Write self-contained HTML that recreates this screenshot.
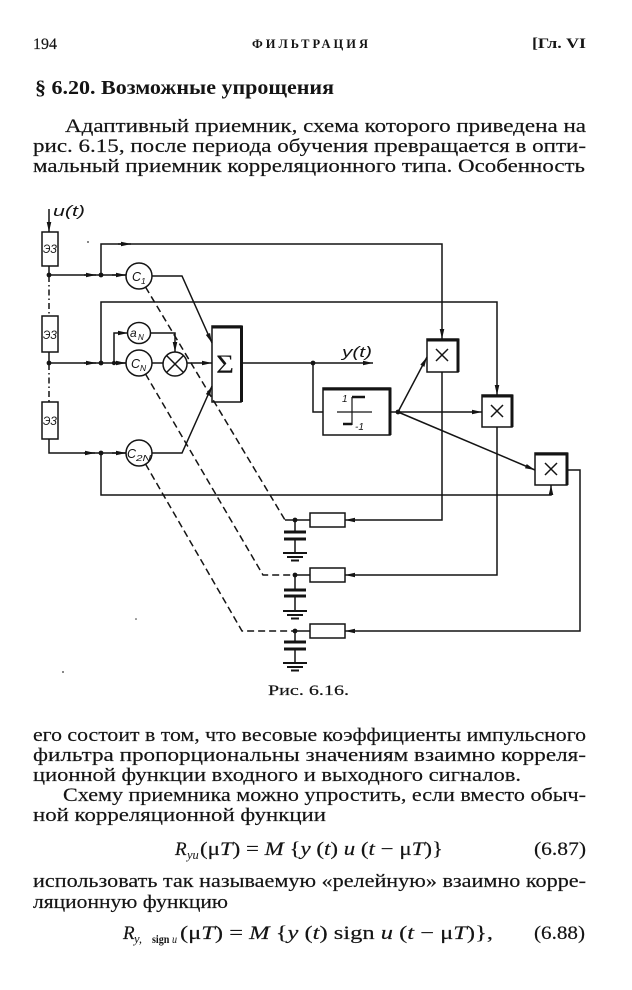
<!DOCTYPE html>
<html><head><meta charset="utf-8">
<style>
html,body{margin:0;padding:0;background:#fff;}
svg{display:block;}
text{font-family:"Liberation Serif","DejaVu Serif",serif;fill:#141414;}
.b{stroke:#141414;stroke-width:0.18px;}
.d{font-family:"Liberation Sans","DejaVu Sans",sans-serif;font-style:italic;}
</style></head><body>
<svg width="632" height="990" viewBox="0 0 632 990" xmlns="http://www.w3.org/2000/svg">
<defs>
<marker id="a" markerWidth="12" markerHeight="6" refX="10" refY="3" orient="auto" markerUnits="userSpaceOnUse"><path d="M0,0.7 L10,3 L0,5.3 z" fill="#141414" stroke="none"/></marker>
</defs>

<!-- header -->
<text class="b" x="33" y="49" font-size="16" textLength="24" lengthAdjust="spacingAndGlyphs">194</text>
<text x="252" y="48" font-size="12.5" font-weight="bold" textLength="116" lengthAdjust="spacing">ФИЛЬТРАЦИЯ</text>
<text x="532" y="48" font-size="14.5" font-weight="bold" textLength="54" lengthAdjust="spacingAndGlyphs">[Гл. VI</text>
<text x="35" y="94" font-size="19.5" font-weight="bold" textLength="299" lengthAdjust="spacingAndGlyphs">§ 6.20. Возможные упрощения</text>

<text class="b" x="65" y="132" font-size="18.5" textLength="521" lengthAdjust="spacingAndGlyphs">Адаптивный приемник, схема которого приведена на</text>
<text class="b" x="33" y="152" font-size="18.5" textLength="553" lengthAdjust="spacingAndGlyphs">рис. 6.15, после периода обучения превращается в опти-</text>
<text class="b" x="33" y="172" font-size="18.5" textLength="552" lengthAdjust="spacingAndGlyphs">мальный приемник корреляционного типа. Особенность</text>

<!-- diagram -->
<g fill="none" stroke="#141414" stroke-width="1.5">
<path d="M49,209 V232" marker-end="url(#a)"/>
<rect x="42" y="232" width="16" height="34"/>
<rect x="42" y="316" width="16" height="36"/>
<rect x="42" y="402" width="16" height="37"/>
<path d="M49,276 V316 M49,364 V402" stroke-dasharray="6 3 1.5 3"/>
<path d="M49,266 V275 H126"/>
<path d="M49,352 V363 H126"/>
<path d="M49,439 V453 H126"/>
<path d="M84,275 H96" marker-end="url(#a)"/>
<path d="M112,275 H126" marker-end="url(#a)"/>
<path d="M84,363 H96" marker-end="url(#a)"/>
<path d="M115,363 H126" marker-end="url(#a)"/>
<path d="M84,453 H95" marker-end="url(#a)"/>
<path d="M112,453 H126" marker-end="url(#a)"/>
<path d="M101,275 V244 H442 V339" marker-end="url(#a)"/>
<path d="M118,244 H131" marker-end="url(#a)"/>
<path d="M101,363 V302 H497 V395" marker-end="url(#a)"/>
<path d="M114,363 V333 H128" marker-end="url(#a)"/>
<path d="M150.5,333 H175 V352" marker-end="url(#a)"/>
<path d="M152,363 H163"/>
<path d="M187,363 H212" marker-end="url(#a)"/>
<path d="M101,453 V495 H551 V485" marker-end="url(#a)"/>
<path d="M152,276 H182 L212,343" marker-end="url(#a)"/>
<path d="M152,453 H182 L212,386" marker-end="url(#a)"/>
<circle cx="139" cy="276" r="13"/>
<ellipse cx="139" cy="333" rx="11.5" ry="10.5"/>
<circle cx="139" cy="363" r="13"/>
<circle cx="175" cy="364" r="12"/>
<path d="M166.5,355.5 L183.5,372.5 M183.5,355.5 L166.5,372.5"/>
<circle cx="139" cy="453" r="13"/>
<rect x="212" y="326" width="29" height="76"/>
<path d="M212,327 H241.5 V402" stroke-width="3"/>
<path d="M241,363 H373" marker-end="url(#a)"/>
<path d="M313,363 V412 H323"/>
<rect x="323" y="388" width="67" height="47"/>
<path d="M323,389 H390 V435" stroke-width="3"/>
<path d="M352,397 V425 M337,412 H372" stroke-width="1.2"/>
<path d="M352,397 H365 M343,424 H352" stroke-width="2.4"/>
<path d="M390,412 H398"/>
<path d="M398,412 L427,357" marker-end="url(#a)"/>
<path d="M398,412 H482" marker-end="url(#a)"/>
<path d="M398,412 L535,470" marker-end="url(#a)"/>
<rect x="427" y="339" width="31" height="33"/>
<path d="M427,340 H458 V372" stroke-width="3"/>
<path d="M436,349 L448,361 M448,349 L436,361"/>
<rect x="482" y="395" width="30" height="32"/>
<path d="M482,396 H512 V427" stroke-width="3"/>
<path d="M491,405 L503,417 M503,405 L491,417"/>
<rect x="535" y="453" width="32" height="32"/>
<path d="M535,454 H567 V485" stroke-width="3"/>
<path d="M545,463 L557,475 M557,463 L545,475"/>
<path d="M442,372 V520 H345" marker-end="url(#a)"/>
<path d="M497,427 V575 H345" marker-end="url(#a)"/>
<path d="M567,470 H580 V631 H345" marker-end="url(#a)"/>
<rect x="310" y="513" width="35" height="14"/>
<rect x="310" y="568" width="35" height="14"/>
<rect x="310" y="624" width="35" height="14"/>
<path d="M285,520 H310 M295,575 H310 M295,631 H310"/>
<path d="M145.5,287 L285,520" stroke-dasharray="7 4"/>
<path d="M145.5,374 L263,575 H295" stroke-dasharray="7 4"/>
<path d="M145.5,464 L242,631 H295" stroke-dasharray="7 4"/>
<path d="M295,520 V532 M295,539 V553"/>
<path d="M284,532 H306 M284,539 H306" stroke-width="3"/>
<path d="M283,553 H307 M287,557 H303 M291,560.5 H299" stroke-width="2"/>
<path d="M295,575 V590 M295,596 V611"/>
<path d="M284,590 H306 M284,596 H306" stroke-width="3"/>
<path d="M283,611 H307 M287,615 H303 M291,618.5 H299" stroke-width="2"/>
<path d="M295,631 V642 M295,649 V663"/>
<path d="M284,642 H306 M284,649 H306" stroke-width="3"/>
<path d="M283,663 H307 M287,667 H303 M291,670.5 H299" stroke-width="2"/>
</g>
<g fill="#141414">
<circle cx="49" cy="275" r="2.4"/><circle cx="49" cy="363" r="2.4"/>
<circle cx="101" cy="275" r="2.4"/><circle cx="101" cy="363" r="2.4"/>
<circle cx="114" cy="363" r="2.2"/><circle cx="101" cy="453" r="2.4"/>
<circle cx="313" cy="363" r="2.4"/><circle cx="398" cy="412" r="2.4"/>
<circle cx="295" cy="520" r="2.4"/><circle cx="295" cy="575" r="2.4"/>
<circle cx="295" cy="631" r="2.4"/>
</g>
<text class="d" x="53" y="216" font-size="15" textLength="32" lengthAdjust="spacingAndGlyphs">u(t)</text>
<text class="d" x="342" y="357" font-size="15" textLength="30" lengthAdjust="spacingAndGlyphs">y(t)</text>
<text class="d" x="43" y="253" font-size="11.5" textLength="14" lengthAdjust="spacingAndGlyphs">ЭЗ</text>
<text class="d" x="43" y="339" font-size="11.5" textLength="14" lengthAdjust="spacingAndGlyphs">ЭЗ</text>
<text class="d" x="43" y="425" font-size="11.5" textLength="14" lengthAdjust="spacingAndGlyphs">ЭЗ</text>
<text class="d" x="132" y="281" font-size="12.5">C</text><text class="d" x="141" y="284" font-size="8.5">1</text>
<text class="d" x="130" y="337" font-size="12">a</text><text class="d" x="138" y="340" font-size="8">N</text>
<text class="d" x="131" y="368" font-size="12.5">C</text><text class="d" x="140" y="371" font-size="8.5">N</text>
<text class="d" x="127" y="458" font-size="12.5">C</text><text class="d" x="136" y="461" font-size="8.5" textLength="15" lengthAdjust="spacingAndGlyphs">2N</text>
<text x="216" y="373" font-size="26" textLength="18" lengthAdjust="spacingAndGlyphs">Σ</text>
<text class="d" x="342" y="402" font-size="10">1</text>
<text class="d" x="355" y="430" font-size="10">-1</text>

<text class="b" x="268" y="695" font-size="15" textLength="81" lengthAdjust="spacingAndGlyphs">Рис. 6.16.</text>

<text class="b" x="33" y="741" font-size="18.5" textLength="553" lengthAdjust="spacingAndGlyphs">его состоит в том, что весовые коэффициенты импульсного</text>
<text class="b" x="33" y="761" font-size="18.5" textLength="553" lengthAdjust="spacingAndGlyphs">фильтра пропорциональны значениям взаимно корреля-</text>
<text class="b" x="33" y="781" font-size="18.5" textLength="488" lengthAdjust="spacingAndGlyphs">ционной функции входного и выходного сигналов.</text>
<text class="b" x="63" y="801" font-size="18.5" textLength="523" lengthAdjust="spacingAndGlyphs">Схему приемника можно упростить, если вместо обыч-</text>
<text class="b" x="33" y="821" font-size="18.5" textLength="293" lengthAdjust="spacingAndGlyphs">ной корреляционной функции</text>

<text class="b" x="175" y="855" font-size="19" font-style="italic">R</text>
<text x="187" y="859" font-size="12.5" font-style="italic">yu</text>
<text class="b" x="200" y="855" font-size="19" textLength="243" lengthAdjust="spacingAndGlyphs">(μ<tspan font-style="italic">T</tspan>) = <tspan font-style="italic">M</tspan> {<tspan font-style="italic">y</tspan> (<tspan font-style="italic">t</tspan>) <tspan font-style="italic">u</tspan> (<tspan font-style="italic">t</tspan> − μ<tspan font-style="italic">T</tspan>)}</text>
<text class="b" x="534" y="855" font-size="19" textLength="52" lengthAdjust="spacingAndGlyphs">(6.87)</text>

<text class="b" x="33" y="887" font-size="18.5" textLength="553" lengthAdjust="spacingAndGlyphs">использовать так называемую «релейную» взаимно корре-</text>
<text class="b" x="33" y="908" font-size="18.5" textLength="195" lengthAdjust="spacingAndGlyphs">ляционную функцию</text>

<text class="b" x="123" y="939" font-size="19" font-style="italic">R</text>
<text x="134" y="943" font-size="12.5" font-style="italic">y,</text>
<text x="152" y="943" font-size="12" font-weight="bold" textLength="25" lengthAdjust="spacingAndGlyphs">sign <tspan font-style="italic" font-weight="normal">u</tspan></text>
<text class="b" x="180" y="939" font-size="19" textLength="313" lengthAdjust="spacingAndGlyphs">(μ<tspan font-style="italic">T</tspan>) = <tspan font-style="italic">M</tspan> {<tspan font-style="italic">y</tspan> (<tspan font-style="italic">t</tspan>) sign <tspan font-style="italic">u</tspan> (<tspan font-style="italic">t</tspan> − μ<tspan font-style="italic">T</tspan>)},</text>
<text class="b" x="534" y="939" font-size="19" textLength="51" lengthAdjust="spacingAndGlyphs">(6.88)</text>

<circle cx="88" cy="242" r="0.9" fill="#333"/>
<circle cx="136" cy="619" r="0.8" fill="#333"/>
<circle cx="63" cy="672" r="0.9" fill="#333"/>
</svg>
</body></html>
